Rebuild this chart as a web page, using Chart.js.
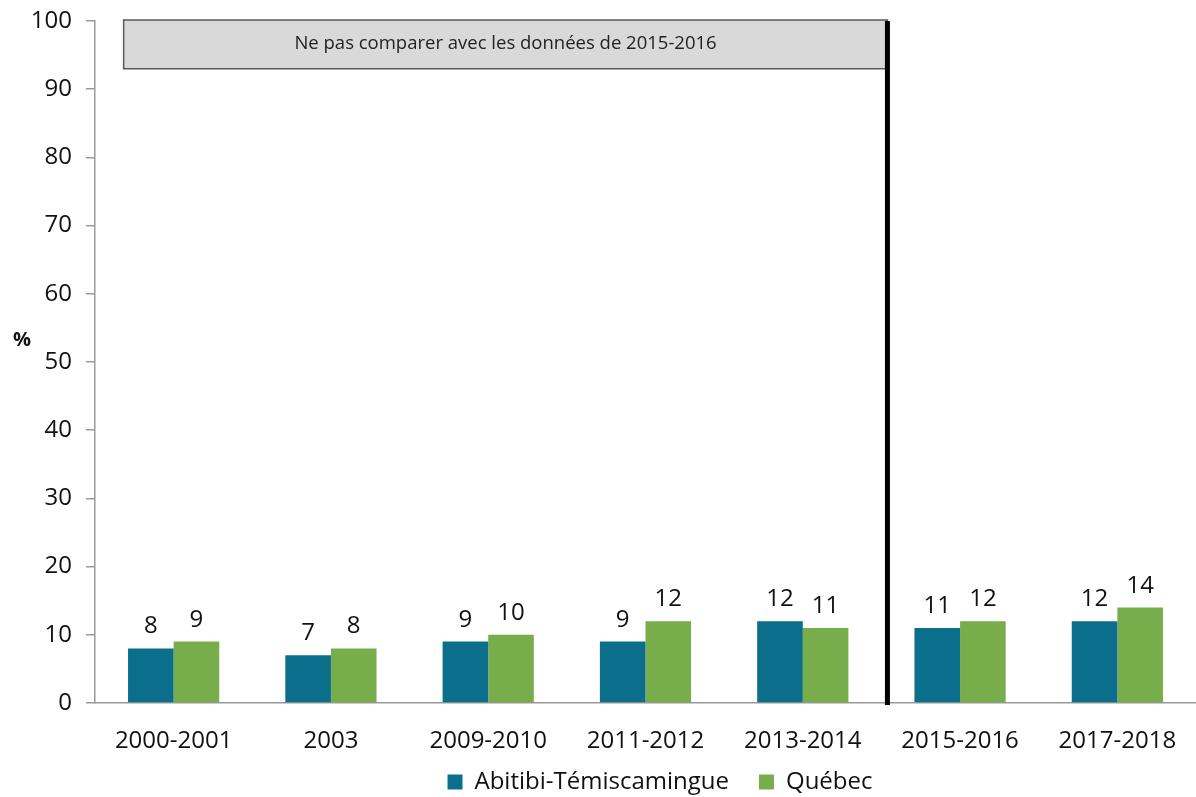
<!DOCTYPE html>
<html lang="fr">
<head>
  <meta charset="UTF-8">
  <title>Abitibi-Témiscamingue vs Québec</title>
  <script src="https://cdn.jsdelivr.net/npm/chart.js"></script>
  <style>
    body { margin: 0; background: #fff; }
  </style>
</head>
<body>
  <canvas id="myChart" width="1196" height="797"></canvas>

<script>
  // data
  const periods = ['2000-2001', '2003', '2009-2010', '2011-2012', '2013-2014', '2015-2016', '2017-2018'];
  const abitibi = [8, 7, 9, 9, 12, 11, 12];
  const quebec = [9, 8, 10, 12, 11, 12, 14];
  const yTicks = [0, 10, 20, 30, 40, 50, 60, 70, 80, 90, 100];
  const noteText = 'Ne pas comparer avec les données de 2015-2016';

  const FONT = "'Open Sans', sans-serif";
  const PLOT_TOP = 21;
  const PLOT_BOTTOM = 703;

  // grey note box + thick separator line + value labels + "%" title
  const extras = {
    id: 'extras',
    afterLayout(chart) {
      // pin the plot area to where it sits in the original
      const area = chart.chartArea;
      area.top = PLOT_TOP;
      area.bottom = PLOT_BOTTOM;
      area.height = PLOT_BOTTOM - PLOT_TOP;
      const ys = chart.scales.y;
      ys.top = PLOT_TOP;
      ys.bottom = PLOT_BOTTOM;
      ys.height = PLOT_BOTTOM - PLOT_TOP;
      ys.configure();

      // the legend sits a bit right of the canvas centre and a bit lower in the original
      const lg = chart.legend;
      lg.left = 124;
      lg.top += 7;
      lg.bottom += 7;

      // let the category labels overlap the legend band (they are clipped to the scale box)
      const xs = chart.scales.x;
      xs.top = PLOT_BOTTOM;
      xs.bottom = lg.top + 30;
      xs.height = xs.bottom - xs.top;
      xs.configure();
    },
    afterDatasetsDraw(chart) {
      const ctx = chart.ctx;
      const x = chart.scales.x;
      const y = chart.scales.y;
      const area = chart.chartArea;

      const sepX = (x.getPixelForValue(4) + x.getPixelForValue(5)) / 2 + 6;

      // note box
      const bx1 = x.getPixelForValue(0) - 50;
      const by1 = y.getPixelForValue(100) - 1;
      const by2 = y.getPixelForValue(93);
      ctx.save();
      ctx.fillStyle = '#d9d9d9';
      ctx.strokeStyle = '#595959';
      ctx.lineWidth = 1.5;
      ctx.fillRect(bx1, by1, sepX - bx1, by2 - by1);
      ctx.strokeRect(bx1, by1, sepX - bx1, by2 - by1);
      ctx.fillStyle = '#222';
      ctx.font = '18.5px ' + FONT;
      ctx.textAlign = 'center';
      ctx.textBaseline = 'middle';
      ctx.fillText(noteText, (bx1 + sepX) / 2, (by1 + by2) / 2 - 1);

      // separator
      ctx.strokeStyle = '#000';
      ctx.lineWidth = 5;
      ctx.beginPath();
      ctx.moveTo(sepX, by1 + 1);
      ctx.lineTo(sepX, area.bottom + 2);
      ctx.stroke();

      // value labels
      ctx.fillStyle = '#111';
      ctx.font = '24px ' + FONT;
      ctx.textBaseline = 'alphabetic';
      chart.data.datasets.forEach((ds, i) => {
        chart.getDatasetMeta(i).data.forEach((bar, j) => {
          ctx.fillText(ds.data[j], bar.x, bar.y - 15);
        });
      });

      // axis title
      ctx.font = 'bold 20px ' + FONT;
      ctx.textAlign = 'left';
      ctx.textBaseline = 'middle';
      ctx.fillText('%', 13, 340);
      ctx.restore();
    }
  };

  const ctx = document.getElementById('myChart');

  const chart = new Chart(ctx, {
    type: 'bar',
    data: {
      labels: periods,
      datasets: [{
        label: 'Abitibi-Témiscamingue',
        data: abitibi,
        backgroundColor: '#0b6f8c'
      },
      {
        label: 'Québec',
        data: quebec,
        backgroundColor: '#78ad4c'
      }]
    },
    options: {
      responsive: false,
      animation: false,
      layout: { padding: { top: 0, right: 0, left: 0, bottom: 0 } },
      datasets: {
        bar: { barPercentage: 1, categoryPercentage: 0.58 }
      },
      plugins: {
        legend: {
          position: 'bottom',
          labels: {
            font: { family: FONT, size: 24 },
            color: '#111',
            boxWidth: 15,
            boxHeight: 15,
            padding: 30
          }
        },
        tooltip: { enabled: false }
      },
      scales: {
        x: {
          grid: { display: false },
          border: { color: '#9a9a9a', width: 1.5 },
          ticks: {
            font: { family: FONT, size: 24 },
            color: '#111',
            padding: 16
          },
          afterFit(scale) { scale.height = 24; }
        },
        y: {
          min: 0,
          max: 100,
          afterBuildTicks(scale) { scale.ticks = yTicks.map(v => ({ value: v })); },
          grid: {
            drawOnChartArea: false,
            tickLength: 9,
            color: '#9a9a9a',
            lineWidth: 1.5
          },
          border: { color: '#9a9a9a', width: 1.5 },
          ticks: {
            font: { family: FONT, size: 24 },
            color: '#111',
            padding: 14
          },
          afterFit(scale) { scale.width = 95; }
        }
      }
    },
    plugins: [extras]
  });
</script>
</body>
</html>
